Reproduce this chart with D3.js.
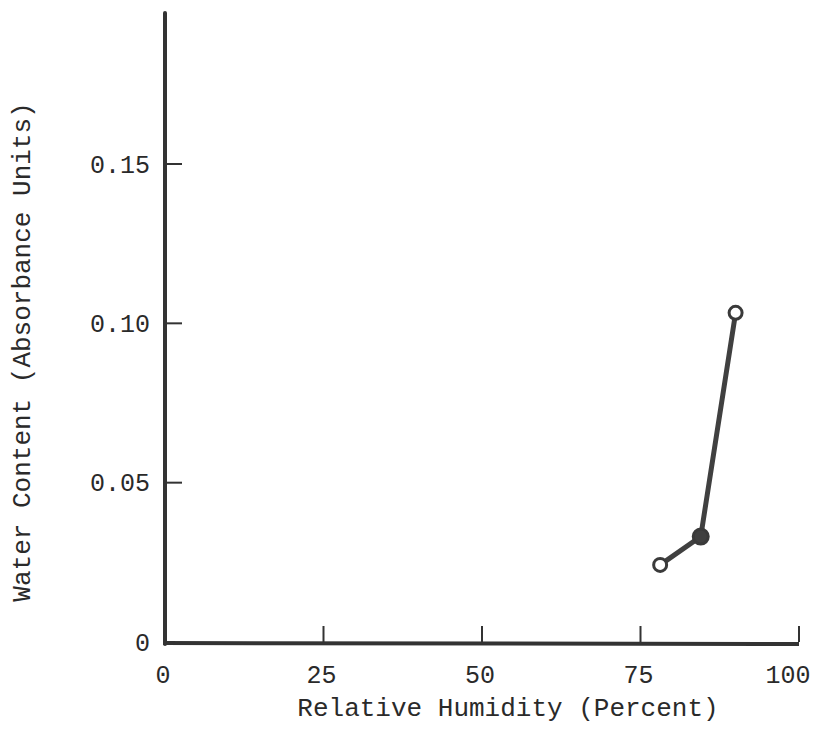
<!DOCTYPE html>
<html>
<head>
<meta charset="utf-8">
<script src="https://cdn.jsdelivr.net/npm/d3@7"></script>
<style>
  body { margin: 0; background: #fff; }
  text { font-family: "Liberation Mono", "DejaVu Sans Mono", monospace; fill: #2a2a2a; }
</style>
</head>
<body>
<svg id="chart" width="822" height="729"></svg>
<script>
// data
const humidity = [78.1, 84.5, 90.0];
const water = [0.0242, 0.0331, 0.1033];
const filled = [false, true, false];
const xTicks = [0, 25, 50, 75, 100];
const yTicks = [0, 0.05, 0.10, 0.15];
const yTickLabels = ["0", "0.05", "0.10", "0.15"];

const svg = d3.select('#chart');

const x = d3.scaleLinear().domain([0, 100]).range([165, 799]);
const y = d3.scaleLinear().domain([0, 0.15]).range([642, 164]);

const ink = "#333";

// axes
const g = svg.append('g');
g.append('line')
    .attr('x1', x(0)).attr('x2', x(0))
    .attr('y1', 13).attr('y2', y(0) + 2)
    .attr('stroke', ink).attr('stroke-width', 4).attr('stroke-linecap', 'round');
g.append('line')
    .attr('x1', x(0) - 2).attr('x2', x(100))
    .attr('y1', y(0) + 1).attr('y2', y(0) + 2)
    .attr('stroke', ink).attr('stroke-width', 4);

// x ticks point up
g.selectAll('.xtick').data(xTicks.slice(1))
  .enter().append('line')
    .attr('class', 'xtick')
    .attr('x1', d => x(d)).attr('x2', d => x(d))
    .attr('y1', y(0)).attr('y2', y(0) - 16)
    .attr('stroke', ink).attr('stroke-width', 2);

// last label sits a bit left of its tick in the original
g.selectAll('.xlab').data(xTicks)
  .enter().append('text')
    .attr('class', 'xlab')
    .attr('x', d => x(d) - 2 - (d === 100 ? 9 : 0))
    .attr('y', 683)
    .attr('text-anchor', 'middle')
    .attr('font-size', 25)
    .text(d => d);

// y ticks point right
g.selectAll('.ytick').data(yTicks.slice(1))
  .enter().append('line')
    .attr('class', 'ytick')
    .attr('x1', x(0)).attr('x2', x(0) + 17)
    .attr('y1', d => y(d)).attr('y2', d => y(d))
    .attr('stroke', ink).attr('stroke-width', 2);

g.selectAll('.ylab').data(yTicks)
  .enter().append('text')
    .attr('class', 'ylab')
    .attr('x', 150)
    .attr('y', d => y(d))
    .attr('dy', '0.35em')
    .attr('text-anchor', 'end')
    .attr('font-size', 25)
    .text((d, i) => yTickLabels[i]);

// axis titles
svg.append('text')
    .attr('x', 508).attr('y', 716)
    .attr('text-anchor', 'middle')
    .attr('font-size', 26)
    .text('Relative Humidity (Percent)');

svg.append('text')
    .attr('transform', `translate(30,352) rotate(-90)`)
    .attr('text-anchor', 'middle')
    .attr('font-size', 26)
    .text('Water Content (Absorbance Units)');

// data line and markers
const pts = humidity.map((h, i) => ({h, w: water[i], f: filled[i]}));

svg.append('path')
    .datum(pts)
    .attr('fill', 'none')
    .attr('stroke', '#404040')
    .attr('stroke-width', 5)
    .attr('d', d3.line().x(d => x(d.h)).y(d => y(d.w)));

svg.selectAll('.pt').data(pts)
  .enter().append('circle')
    .attr('class', 'pt')
    .attr('cx', d => x(d.h)).attr('cy', d => y(d.w))
    .attr('r', d => d.f ? 7.5 : 6.5)
    .attr('fill', d => d.f ? '#404040' : '#fff')
    .attr('stroke', '#3a3a3a')
    .attr('stroke-width', 3);
</script>
</body>
</html>
